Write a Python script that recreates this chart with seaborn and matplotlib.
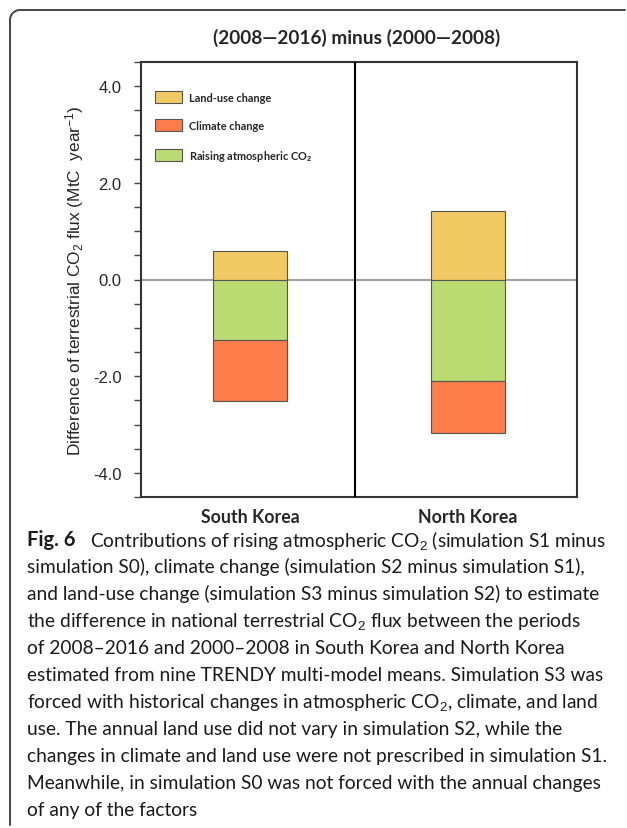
import matplotlib
matplotlib.use("Agg")
import matplotlib.pyplot as plt
from matplotlib.patches import Patch, Arc
from matplotlib.lines import Line2D
from matplotlib.ticker import MultipleLocator, FormatStrFormatter
import seaborn as sns
import pandas as pd

# data (MtC year-1)
countries = ["South Korea", "North Korea"]
land_use = [0.60, 1.42]
raising_co2 = [-1.25, -2.10]
climate = [-1.26, -1.07]  # stacked below the raising CO2 part

series_names = ["Land-use change", "Climate change", "Raising atmospheric CO$_\\mathbf{2}$"]
series_colors = ["#F2CA64", "#FF7D4A", "#BADC72"]

title = "(2008\u20142016) minus (2000\u20142008)"
ylabel = "Difference of terrestrial CO$_2$ flux (MtC  year$^{-1}$)"

caption_head = "Fig. 6"
caption_lines = [
    "Contributions of rising atmospheric CO$_2$ (simulation S1 minus",
    "simulation S0), climate change (simulation S2 minus simulation S1),",
    "and land-use change (simulation S3 minus simulation S2) to estimate",
    "the difference in national terrestrial CO$_2$ flux between the periods",
    "of 2008\u20132016 and 2000\u20132008 in South Korea and North Korea",
    "estimated from nine TRENDY multi-model means. Simulation S3 was",
    "forced with historical changes in atmospheric CO$_2$, climate, and land",
    "use. The annual land use did not vary in simulation S2, while the",
    "changes in climate and land use were not prescribed in simulation S1.",
    "Meanwhile, in simulation S0 was not forced with the annual changes",
    "of any of the factors",
]

df = pd.DataFrame({"country": countries, "land_use": land_use,
                   "raising": raising_co2, "climate": climate})

sns.set_style("white")
plt.rcParams["font.family"] = ["Liberation Sans", "DejaVu Sans"]
plt.rcParams["axes.unicode_minus"] = False
plt.rcParams["mathtext.fontset"] = "custom"
plt.rcParams["mathtext.rm"] = "Liberation Sans"
plt.rcParams["mathtext.it"] = "Liberation Sans:italic"
plt.rcParams["mathtext.bf"] = "Liberation Sans:bold"

W, H = 627, 829
fig = plt.figure(figsize=(W / 100, H / 100), dpi=100)
ax = fig.add_axes([141 / W, 1 - 498 / H, 436 / W, 435 / H])

ax.axhline(0, color="#A0A0A0", lw=1.5, zorder=0)

bar_kw = dict(width=0.335, edgecolor="#555555", linewidth=0.8, saturation=1, ax=ax, zorder=2)
sns.barplot(data=df, x="country", y="land_use", color=series_colors[0], **bar_kw)
sns.barplot(data=df, x="country", y="raising", color=series_colors[2], **bar_kw)
sns.barplot(data=df, x="country", y="climate", color=series_colors[1],
            bottom=df["raising"].values, **bar_kw)

ax.set_xlim(-0.5, 1.5)
ax.set_ylim(-4.5, 4.5)
ax.axvline(0.48, color="black", lw=1.5, zorder=3)

ax.yaxis.set_major_locator(MultipleLocator(2.0))
ax.yaxis.set_minor_locator(MultipleLocator(0.5))
ax.yaxis.set_major_formatter(FormatStrFormatter("%.1f"))
ax.tick_params(axis="y", which="both", left=True, length=5, width=1, color="#444444",
               direction="out", labelsize=12, pad=9)
ax.tick_params(axis="x", length=0, pad=8)
for lab in ax.get_xticklabels():
    lab.set_fontweight("bold")
    lab.set_fontsize(12.8)
    lab.set_family(["Lato", "DejaVu Sans"])
ax.set_xlabel("")
ax.set_ylabel(ylabel, fontsize=12.4, labelpad=5)

for side in ["left", "bottom", "top", "right"]:
    ax.spines[side].set_visible(True)
    ax.spines[side].set_color("#333333")
    ax.spines[side].set_linewidth(1.5)

handles = [Patch(facecolor=c, edgecolor="#555555", linewidth=0.8) for c in series_colors]
ax.legend(handles, series_names, loc="upper left", bbox_to_anchor=(155 / W, 1 - 92 / H),
          bbox_transform=fig.transFigure, frameon=False, borderpad=0, borderaxespad=0,
          handlelength=2.5, handleheight=1.3, labelspacing=1.5, handletextpad=0.6,
          prop={"family": ["Lato", "DejaVu Sans"], "weight": "bold", "size": 7.9})

fig.text(357 / W, 1 - 38 / H, title, ha="center", va="center", fontsize=13.7,
         fontweight="bold", family=["Lato", "DejaVu Sans"])

# caption
cap_font = ["Lato", "DejaVu Sans"]
fig.text(27 / W, 1 - 540 / H, caption_head, ha="left", va="center", fontsize=14.5,
         fontweight="bold", family=cap_font, color="#1a1a1a")
for i, line in enumerate(caption_lines):
    x0 = 90 / W if i == 0 else 27 / W
    fig.text(x0, 1 - (540 + 27.1 * i) / H, line, ha="left", va="center",
             fontsize=13.8, family=cap_font, color="#1a1a1a")

# outer frame (top and left edges with rounded corner)
fc = "#444444"
fig.add_artist(Line2D([20 / W, 625 / W], [1 - 11 / H, 1 - 11 / H], color=fc, lw=1.4,
                      transform=fig.transFigure))
fig.add_artist(Line2D([10 / W, 10 / W], [1 - 21 / H, 1 - 826 / H], color=fc, lw=1.4,
                      transform=fig.transFigure))
fig.add_artist(Arc((20 / W, 1 - 21 / H), 20 / W, 20 / H, theta1=90, theta2=180,
                   color=fc, lw=1.4, transform=fig.transFigure))

fig.savefig("out.png", dpi=100)
